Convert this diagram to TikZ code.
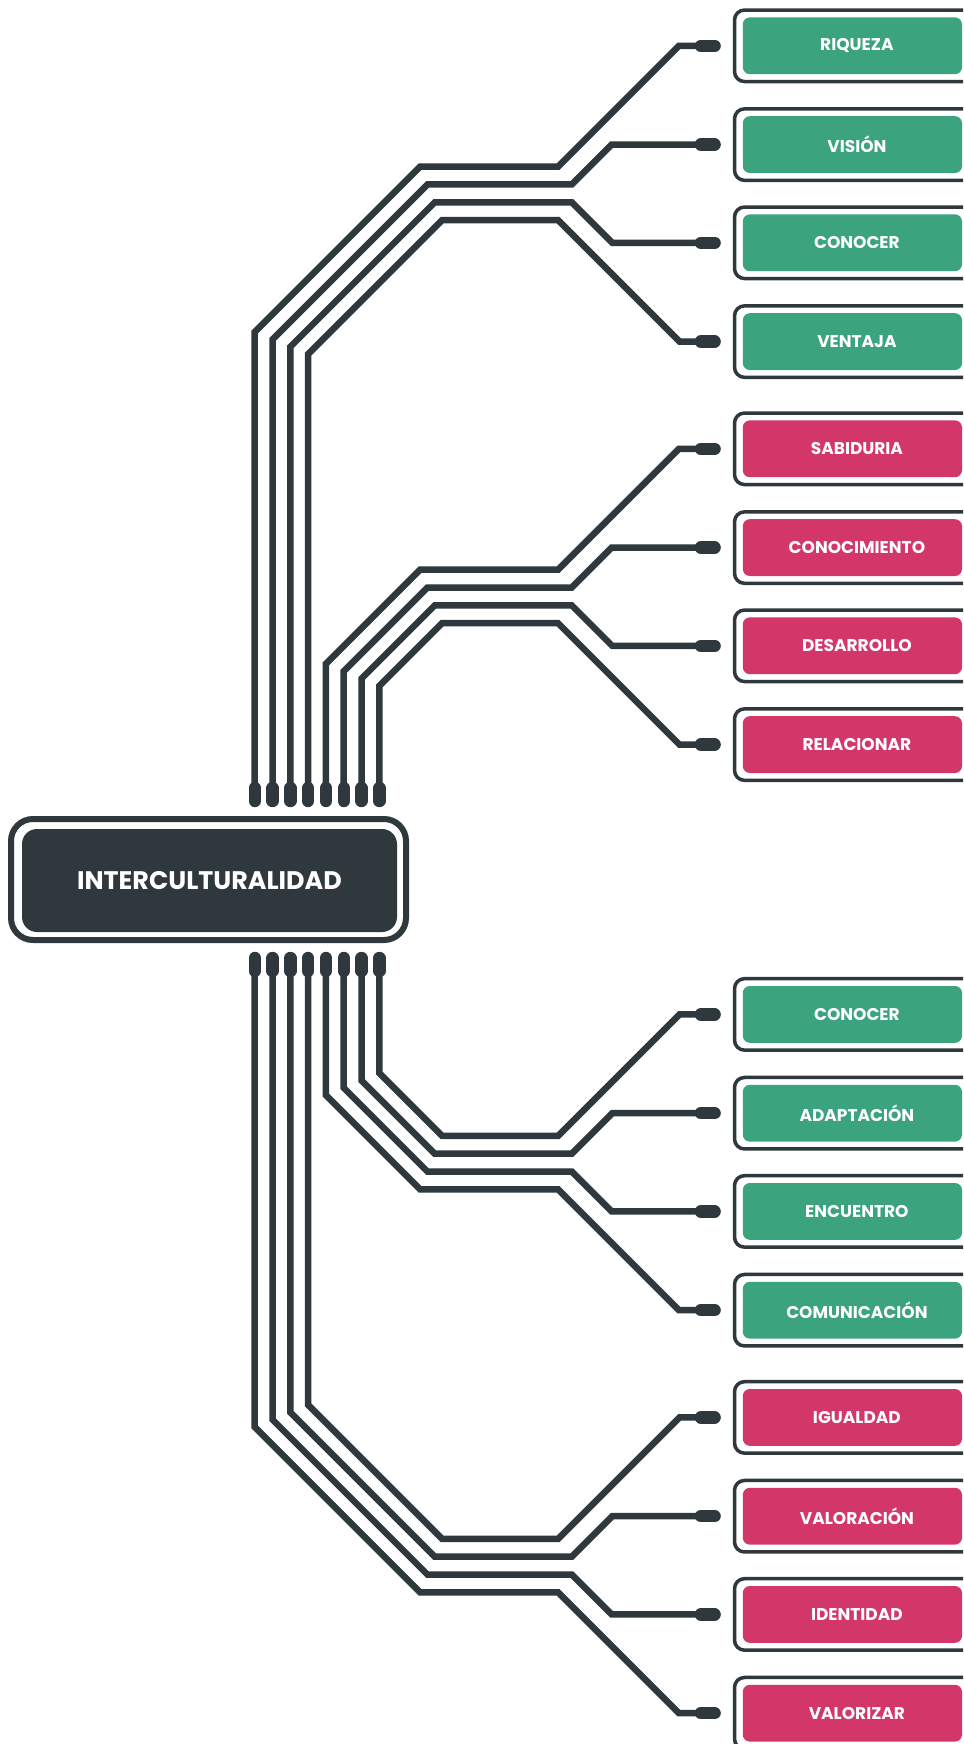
\documentclass[tikz,border=0pt]{standalone}
\usepackage{fontspec}
\setmainfont{Poppins}
\definecolor{slate}{RGB}{46,56,61}
\definecolor{leaf}{RGB}{59,163,125}
\definecolor{rose}{RGB}{211,55,106}
\begin{document}
\begin{tikzpicture}[x=0.5pt,y=-0.5pt,
  trace/.style={slate,line width=3.25pt},
  pin/.style={slate,line width=6.2pt,line cap=round},
  rim/.style={slate,line width=1.75pt,rounded corners=5pt},
  tag/.style={rounded corners=3.5pt,minimum width=109.6pt,minimum height=28.4pt,inner sep=0pt,
    text=white,font=\fontsize{8.5}{10}\selectfont\bfseries,execute at begin node=\hspace*{4.5pt}}]
\useasboundingbox (0,0) rectangle (963,1744);
\clip (0,0) rectangle (963,1744);
\fill[white] (0,0) rectangle (963,1744);

\draw[slate,line width=3pt,rounded corners=11pt] (11,819) rectangle (406,940);
\node[fill=slate,rounded corners=7.5pt,minimum width=187.5pt,minimum height=51.5pt,text=white,
  font=\fontsize{12.7}{14}\selectfont\bfseries] (core) at (209.5,880.5) {INTERCULTURALIDAD};

\foreach \n/\y/\c/\lbl in {1/45.8/leaf/RIQUEZA,2/144.6/leaf/VISIÓN,3/242.8/leaf/CONOCER,4/341.6/leaf/VENTAJA,
  5/448.8/rose/SABIDURIA,6/547.6/rose/CONOCIMIENTO,7/645.8/rose/DESARROLLO,8/744.6/rose/RELACIONAR,
  9/1014.4/leaf/CONOCER,10/1113.2/leaf/ADAPTACIÓN,11/1211.4/leaf/ENCUENTRO,12/1310.2/leaf/COMUNICACIÓN,
  13/1417.4/rose/IGUALDAD,14/1516.2/rose/VALORACIÓN,15/1614.4/rose/IDENTIDAD,16/1713.2/rose/VALORIZAR}{
  \draw[rim] (734.5,\y-35.75) rectangle (1000,\y+35.75);
  \node[tag,fill=\c] (box\n) at (852.4,\y) {\lbl};
  \coordinate (tip\n) at (700.9,\y);
}

\foreach \i in {1,...,8}{
  \pgfmathsetmacro\px{254.7+17.8*(\i-1)}
  \coordinate (up\i) at (\px,788);
  \coordinate (dn\i) at (\px,971);
}

\foreach \s/\o/\side in {1/0/up,-1/1759/dn}
  \foreach \i in {1,...,8}{
    \pgfmathsetmacro\px{254.7+17.8*(\i-1)}
    \pgfmathtruncatemacro\g{\i>4}
    \pgfmathtruncatemacro\k{\i-1-4*\g}
    \pgfmathtruncatemacro\n{\s>0 ? \i : 17-\i}
    \pgfmathsetmacro\h{166.7+17.8*\k+403*\g}
    \pgfmathsetmacro\lx{420+7.4*\k}
    \pgfmathsetmacro\rx{(\k==0||\k==3) ? 558 : 571.7}
    \pgfmathsetmacro\b{{45.8,144.6,242.8,341.6}[\k]+403*\g}
    \pgfmathsetmacro\ex{\rx+abs(\h-\b)}
    \pgfmathsetmacro\yv{\o+\s*(\lx+\h-\px)}
    \pgfmathsetmacro\yh{\o+\s*\h}
    \pgfmathsetmacro\yb{\o+\s*\b}
    \draw[trace] (\side\i) -- (\px,\yv) -- (\lx,\yh) -- (\rx,\yh) -- (\ex,\yb) -- (tip\n);
  }

\foreach \i in {1,...,8}{
  \draw[pin] (up\i) -- ++(0,13);
  \draw[pin] (dn\i) -- ++(0,-13);
}
\foreach \n in {1,...,16}
  \draw[pin] (tip\n) -- ++(13.7,0);
\end{tikzpicture}
\end{document}
